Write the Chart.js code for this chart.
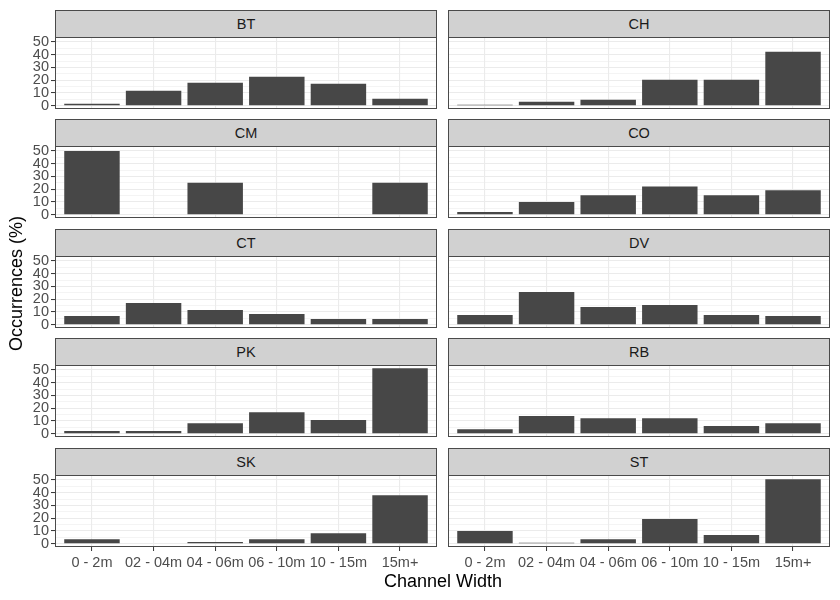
<!DOCTYPE html>
<html>
<head>
<meta charset="utf-8">
<script src="https://cdn.jsdelivr.net/npm/chart.js@4.4.1/dist/chart.umd.min.js"></script>
<style>
  body { margin: 0; background: #fff; font-family: "Liberation Sans", Arial, sans-serif; }
  #wrap { position: relative; width: 840px; height: 600px; overflow: hidden; }
  canvas { position: absolute; }
  .strip { position: absolute; box-sizing: border-box; background: #d1d1d1; border: 1px solid #4a4a4a;
           color: #1a1a1a; font-size: 14.5px; text-align: center; z-index: 2; }
  .title { position: absolute; color: #000; font-size: 18px; white-space: nowrap; }
</style>
</head>
<body>
<div id="wrap"></div>
<script>
// channel width classes (x axis)
const categories = ['0 - 2m', '02 - 04m', '04 - 06m', '06 - 10m', '10 - 15m', '15m+'];
const sites = ['BT', 'CH', 'CM', 'CO', 'CT', 'DV', 'PK', 'RB', 'SK', 'ST'];

// occurrences (%) per site
const valuesBT = [1.6, 11.8, 18.1, 22.8, 17.3, 5.5];
const valuesCH = [0.8, 3.1, 4.7, 20.4, 20.4, 42.4];
const valuesCM = [50, 0, 25, 0, 0, 25];
const valuesCO = [2.1, 10.0, 15.2, 22.2, 15.2, 19.1];
const valuesCT = [6.8, 17.0, 11.5, 8.4, 4.5, 4.5];
const valuesDV = [7.6, 25.7, 13.9, 15.4, 7.6, 6.8];
const valuesPK = [2.1, 2.1, 8.3, 16.9, 10.7, 51.3];
const valuesRB = [3.6, 13.8, 12.2, 12.2, 6.0, 8.3];
const valuesSK = [3.6, 0, 1.3, 3.6, 8.3, 38.0];
const valuesST = [9.9, 0.8, 3.6, 19.3, 6.8, 50.5];

const yTicks = [0, 5, 10, 15, 20, 25, 30, 35, 40, 45, 50];

const siteValues = [valuesBT, valuesCH, valuesCM, valuesCO, valuesCT,
                    valuesDV, valuesPK, valuesRB, valuesSK, valuesST];

const wrap = document.getElementById('wrap');
const tickFont = { family: '"Liberation Sans", Arial, sans-serif', size: 14.5, lineHeight: 1 };

// shared y range like ggplot (5% expansion each side)
const dataMax = Math.max(...siteValues.flat());
const yMax = dataMax * 1.05;
const yMin = -dataMax * 0.05;

// panel geometry
const panelTops = [37, 146, 256, 365, 475];
const panelH = 72;
const stripH = 27;
const pad = 10;
const xAxisH = 26;
const cols = [
    { canvasLeft: 0, canvasWidth: 440, yWidth: 55, padRight: 3 },
    { canvasLeft: 440, canvasWidth: 400, yWidth: 8, padRight: 10 }
];

const panelBorder = {
    id: 'panelBorder',
    afterDraw(chart) {
        const a = chart.chartArea;
        const ctx = chart.ctx;
        ctx.save();
        ctx.strokeStyle = '#4a4a4a';
        ctx.lineWidth = 1;
        ctx.strokeRect(a.left + 0.5, a.top + 0.5, a.right - a.left - 1, a.bottom - a.top - 1);
        ctx.restore();
    }
};

function makePanel(i) {
    const row = Math.floor(i / 2);
    const col = cols[i % 2];
    const isBottom = row === panelTops.length - 1;
    const isLeft = i % 2 === 0;

    const canvas = document.createElement('canvas');
    const h = pad + panelH + (isBottom ? xAxisH : 0) + pad;
    canvas.width = col.canvasWidth;
    canvas.height = h;
    canvas.style.left = col.canvasLeft + 'px';
    canvas.style.top = (panelTops[row] - pad) + 'px';
    wrap.appendChild(canvas);

    const panelLeft = col.canvasLeft + col.yWidth;
    const panelWidth = col.canvasWidth - col.yWidth - col.padRight;
    const strip = document.createElement('div');
    strip.className = 'strip';
    strip.style.left = panelLeft + 'px';
    strip.style.width = panelWidth + 'px';
    strip.style.top = (panelTops[row] - stripH) + 'px';
    strip.style.height = (stripH + 1) + 'px';
    strip.style.lineHeight = (stripH - 1) + 'px';
    strip.textContent = sites[i];
    wrap.appendChild(strip);

    new Chart(canvas, {
        type: 'bar',
        data: {
            datasets: [{
                data: siteValues[i].map((v, k) => ({ x: k + 1, y: v })),
                backgroundColor: '#474747',
                borderWidth: 0,
                barPercentage: 0.9,
                categoryPercentage: 1
            }]
        },
        options: {
            responsive: false,
            animation: false,
            devicePixelRatio: 1,
            layout: { padding: { top: pad, bottom: pad, left: 0, right: col.padRight } },
            plugins: { legend: { display: false }, tooltip: { enabled: false } },
            scales: {
                x: {
                    type: 'linear',
                    offset: false,
                    min: 0.4,
                    max: categories.length + 0.6,
                    afterBuildTicks: s => { s.ticks = categories.map((c, k) => ({ value: k + 1 })); },
                    afterFit: s => { s.height = isBottom ? xAxisH : 0; },
                    border: { display: false },
                    grid: {
                        offset: false,
                        color: '#ebebeb',
                        lineWidth: 1.1,
                        drawTicks: isBottom,
                        tickLength: 4,
                        tickColor: '#333333',
                        tickWidth: 1
                    },
                    ticks: {
                        display: isBottom,
                        autoSkip: false,
                        maxRotation: 0,
                        padding: 5,
                        color: '#4d4d4d',
                        font: tickFont,
                        callback: v => categories[v - 1]
                    }
                },
                y: {
                    min: yMin,
                    max: yMax,
                    afterBuildTicks: s => { s.ticks = yTicks.map(v => ({ value: v })); },
                    afterFit: s => { s.width = col.yWidth; },
                    border: { display: false },
                    grid: {
                        color: '#ebebeb',
                        lineWidth: c => (c.tick && c.tick.value % 10 === 0 ? 1.1 : 0.55),
                        drawTicks: isLeft,
                        tickLength: 4,
                        tickColor: c => (c.tick && c.tick.value % 10 === 0 ? '#333333' : 'rgba(0,0,0,0)'),
                        tickWidth: 1
                    },
                    ticks: {
                        display: isLeft,
                        autoSkip: false,
                        padding: 2,
                        color: '#4d4d4d',
                        font: tickFont,
                        callback: v => (v % 10 === 0 ? String(v) : '')
                    }
                }
            }
        },
        plugins: [panelBorder]
    });
}

for (let i = 0; i < sites.length; i++) makePanel(i);

// shared axis titles
const xTitle = document.createElement('div');
xTitle.className = 'title';
xTitle.textContent = 'Channel Width';
wrap.appendChild(xTitle);
xTitle.style.left = (443 - xTitle.offsetWidth / 2) + 'px';
xTitle.style.top = '571px';

const yTitle = document.createElement('div');
yTitle.className = 'title';
yTitle.textContent = 'Occurrences (%)';
wrap.appendChild(yTitle);
yTitle.style.left = (16 - yTitle.offsetWidth / 2) + 'px';
yTitle.style.top = (283 - yTitle.offsetHeight / 2) + 'px';
yTitle.style.transform = 'rotate(-90deg)';
</script>
</body>
</html>
